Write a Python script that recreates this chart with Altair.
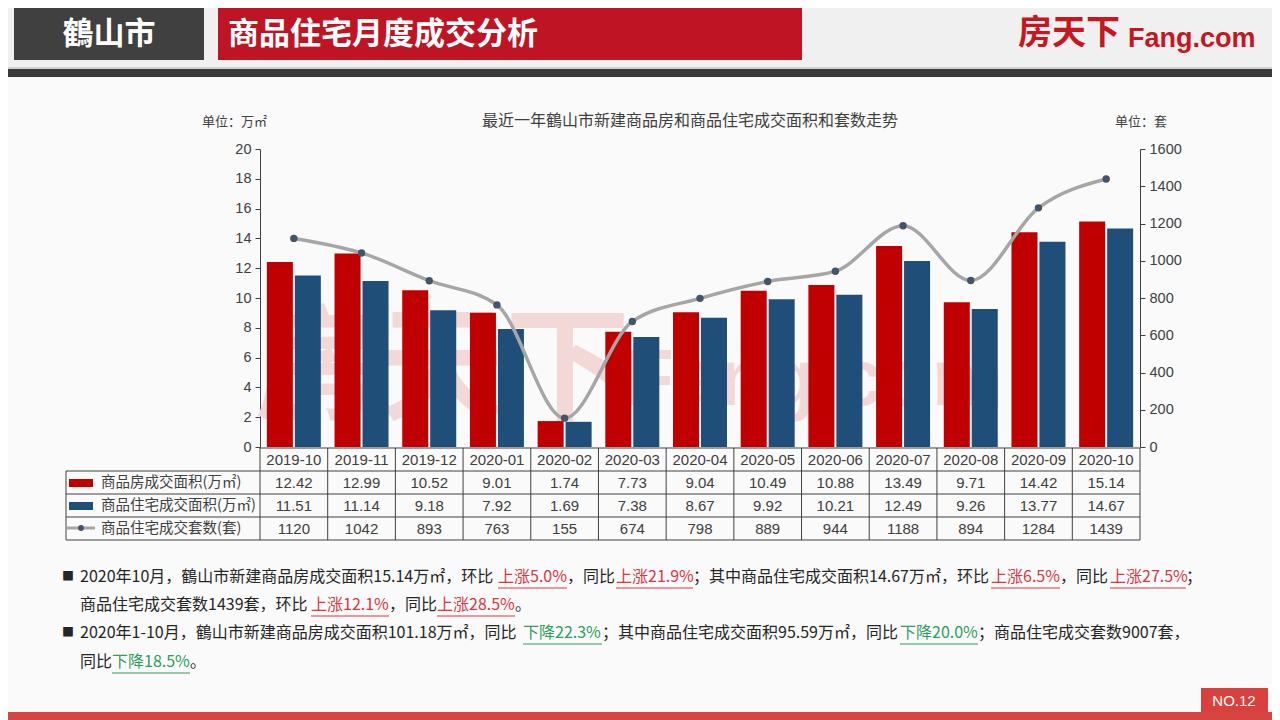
import altair as alt
import pandas as pd

# ---------------- data ----------------
months = ["2019-10", "2019-11", "2019-12", "2020-01", "2020-02", "2020-03", "2020-04",
          "2020-05", "2020-06", "2020-07", "2020-08", "2020-09", "2020-10"]
area_total = [12.42, 12.99, 10.52, 9.01, 1.74, 7.73, 9.04, 10.49, 10.88, 13.49, 9.71, 14.42, 15.14]
area_residential = [11.51, 11.14, 9.18, 7.92, 1.69, 7.38, 8.67, 9.92, 10.21, 12.49, 9.26, 13.77, 14.67]
units_residential = [1120, 1042, 893, 763, 155, 674, 798, 889, 944, 1188, 894, 1284, 1439]
series_names = ["商品房成交面积(万㎡)", "商品住宅成交面积(万㎡)", "商品住宅成交套数(套)"]
left_ticks = [0, 2, 4, 6, 8, 10, 12, 14, 16, 18, 20]
right_ticks = [0, 200, 400, 600, 800, 1000, 1200, 1400, 1600]

chart_title = "最近一年鶴山市新建商品房和商品住宅成交面积和套数走势"
unit_left = "单位：万㎡"
unit_right = "单位：套"
city = "鶴山市"
page_title = "商品住宅月度成交分析"
page_no = "NO.12"

# paragraph text: (text, kind) ; kind n = normal, up = red, down = green
para_lines = [
    [("2020年10月，鶴山市新建商品房成交面积15.14万㎡，环比", "n"), ("上涨5.0%", "up"), ("，同比", "n"),
     ("上涨21.9%", "up"), ("；其中商品住宅成交面积14.67万㎡，环比", "n"), ("上涨6.5%", "up"),
     ("，同比", "n"), ("上涨27.5%", "up"), ("；", "n")],
    [("商品住宅成交套数1439套，环比", "n"), ("上涨12.1%", "up"), ("，同比", "n"), ("上涨28.5%", "up"), ("。", "n")],
    [("2020年1-10月，鶴山市新建商品房成交面积101.18万㎡，同比", "n"), ("下降22.3%", "down"),
     ("；其中商品住宅成交面积95.59万㎡，同比", "n"), ("下降20.0%", "down"), ("；商品住宅成交套数9007套，", "n")],
    [("同比", "n"), ("下降18.5%", "down"), ("。", "n")],
]
# layout of the paragraph segments (page px): start x of each segment, line centre y
para_x = [
    [80, 498, 567, 616, 693, 991, 1060, 1110, 1186, 1200],
    [80, 311, 389, 437, 515, 525],
    [80, 523, 602, 900, 978, 1190],
    [80, 112, 190, 200],
]
para_y = [577, 605, 633, 662]
bullet_lines = [0, 2]

# ---------------- layout ----------------
X0, Y0 = 260, 149          # page position of the plot origin
W, H = 880, 298
CJK = "Noto Sans CJK SC"
LAT = "Liberation Sans"
TXT = "#404040"
RED = "#C00000"
BLUE = "#1F4E79"
LINE = "#A6A6A6"
DOT = "#44546A"

one = pd.DataFrame({"k": [0]})


def box(x1, y1, x2, y2, color, opacity=1):
    return alt.Chart(one).mark_rect(color=color, opacity=opacity).encode(
        x=alt.value(x1 - X0), x2=alt.value(x2 - X0), y=alt.value(y1 - Y0), y2=alt.value(y2 - Y0))


def label(t, x, y, size, color=TXT, align="left", weight="normal", font=CJK, baseline="middle", opacity=1):
    return alt.Chart(one).mark_text(text=t, align=align, baseline=baseline, fontSize=size,
                                    fontWeight=weight, font=font, color=color, opacity=opacity).encode(
        x=alt.value(x - X0), y=alt.value(y - Y0))


def hline(x1, x2, y, color=TXT, w=1):
    return alt.Chart(one).mark_rule(color=color, strokeWidth=w).encode(
        x=alt.value(x1 - X0), x2=alt.value(x2 - X0), y=alt.value(y - Y0))


def vline(x, y1, y2, color=TXT, w=1):
    return alt.Chart(one).mark_rule(color=color, strokeWidth=w).encode(
        x=alt.value(x - X0), y=alt.value(y1 - Y0), y2=alt.value(y2 - Y0))


x_scale = alt.Scale(domain=months, paddingInner=0, paddingOuter=0)
x_enc = alt.X("month:N", sort=months, scale=x_scale, axis=None)

layers = []

# header
layers += [
    box(8, 8, 1272, 67, "#F0F0F0"),
    box(8, 67, 1272, 69, "#D0D0D0"),
    box(8, 69, 1272, 77, "#3A3A3A"),
    box(14, 8, 204, 60, "#404040"),
    box(218, 8, 802, 60, "#BE1424"),
    label(city, 109, 35, 31, color="white", align="center", weight="bold"),
    label(page_title, 228, 35, 31, color="white", weight="bold"),
    label("房天下", 1018, 34, 34, color="#C8161E", weight="bold"),
    label("Fang.com", 1128, 47, 27, color="#C8161E", weight="bold", font=LAT, baseline="alphabetic"),
]

# watermark
layers += [
    label("房天下", 255, 372, 125, color="#F3D8D8", weight="bold"),
    label("Fang.com", 625, 405, 80, color="#F3D8D8", weight="bold", font=LAT, baseline="alphabetic"),
]

# bars
bars_df = pd.DataFrame({
    "month": months * 2,
    "series": [series_names[0]] * len(months) + [series_names[1]] * len(months),
    "value": area_total + area_residential,
})
bars = alt.Chart(bars_df).mark_bar().encode(
    x=x_enc,
    xOffset=alt.XOffset("series:N", sort=series_names[:2],
                        scale=alt.Scale(domain=series_names[:2], paddingInner=0.07, paddingOuter=0.245)),
    y=alt.Y("value:Q", scale=alt.Scale(domain=[0, 20], nice=False),
            axis=alt.Axis(orient="left", values=left_ticks, tickSize=5, labelPadding=4, grid=False,
                          title=None, domainColor=TXT, tickColor=TXT, labelColor=TXT,
                          labelFont=LAT, labelFontSize=14.5)),
    color=alt.Color("series:N", scale=alt.Scale(domain=series_names[:2], range=[RED, BLUE]), legend=None),
)
layers.append(bars)

# line + points
line_df = pd.DataFrame({"month": months, "units": units_residential})
y_right = alt.Scale(domain=[0, 1600], nice=False)
line = alt.Chart(line_df).mark_line(interpolate="monotone", color=LINE, strokeWidth=3.5).encode(
    x=x_enc,
    y=alt.Y("units:Q", scale=y_right,
            axis=alt.Axis(orient="right", values=right_ticks, format="d", tickSize=5, labelPadding=4,
                          grid=False, title=None, domainColor=TXT, tickColor=TXT, labelColor=TXT,
                          labelFont=LAT, labelFontSize=14.5)),
)
points = alt.Chart(line_df).mark_circle(size=55, color=DOT, opacity=1).encode(
    x=x_enc, y=alt.Y("units:Q", scale=y_right, axis=None))
layers += [line, points]

# titles
layers += [
    label(chart_title, 690, 121, 16, align="center"),
    label(unit_left, 202, 122, 13),
    label(unit_right, 1115, 122, 13),
]

# table
tbl = pd.DataFrame({"month": months, "a": area_total, "b": area_residential, "c": units_residential})
layers += [
    hline(260, 1140, 448),
    hline(66, 1140, 471),
    hline(66, 1140, 494),
    hline(66, 1140, 517),
    hline(66, 1140, 540),
    vline(66, 471, 540),
    vline(1140, 448, 540),
    alt.Chart(tbl).mark_rule(color=TXT, strokeWidth=1).encode(
        x=alt.X("month:N", sort=months, scale=x_scale, axis=None, bandPosition=0),
        y=alt.value(448 - Y0), y2=alt.value(540 - Y0)),
    alt.Chart(tbl).mark_text(font=LAT, fontSize=15, color=TXT, baseline="middle").encode(
        x=x_enc, y=alt.value(460 - Y0), text="month:N"),
    alt.Chart(tbl).mark_text(font=LAT, fontSize=15, color=TXT, baseline="middle").encode(
        x=x_enc, y=alt.value(483 - Y0), text=alt.Text("a:Q", format=".2f")),
    alt.Chart(tbl).mark_text(font=LAT, fontSize=15, color=TXT, baseline="middle").encode(
        x=x_enc, y=alt.value(506 - Y0), text=alt.Text("b:Q", format=".2f")),
    alt.Chart(tbl).mark_text(font=LAT, fontSize=15, color=TXT, baseline="middle").encode(
        x=x_enc, y=alt.value(529 - Y0), text=alt.Text("c:Q", format="d")),
    # legend keys
    box(69, 479, 93, 487, RED),
    box(69, 502, 93, 510, BLUE),
    hline(67, 95, 528, color=LINE, w=3),
    alt.Chart(one).mark_circle(size=35, color=DOT, opacity=1).encode(
        x=alt.value(81 - X0), y=alt.value(528 - Y0)),
    label(series_names[0], 101, 483, 14.5),
    label(series_names[1], 101, 506, 14.5),
    label(series_names[2], 101, 529, 14.5),
]

# paragraphs
colors = {"n": "#262626", "up": "#D9363E", "down": "#2E9E5B"}
for li, segs in enumerate(para_lines):
    y = para_y[li]
    if li in bullet_lines:
        layers.append(label("■", 68, y, 12, color="#262626", align="center"))
    for si, (t, kind) in enumerate(segs):
        x = para_x[li][si]
        layers.append(label(t, x, y, 16, color=colors[kind]))
        if kind != "n":
            layers.append(hline(x, para_x[li][si + 1], y + 11, color=colors[kind], w=1))

# footer
layers += [
    box(8, 712, 1272, 720, "#D64541"),
    box(1201, 688, 1268, 713, "#D9413F"),
    label(page_no, 1234, 701, 15, color="white", align="center", font=LAT),
]

chart = alt.layer(*layers).resolve_scale(y="independent").properties(
    width=W, height=H,
    autosize=alt.AutoSizeParams(type="none"),
    padding={"left": X0 - 8, "top": Y0 - 8, "right": 1272 - (X0 + W), "bottom": 720 - (Y0 + H)},
    background="#FAFAFA",
).configure_view(stroke=None)

chart.save("out.html", embed_options={"renderer": "svg", "actions": False})
